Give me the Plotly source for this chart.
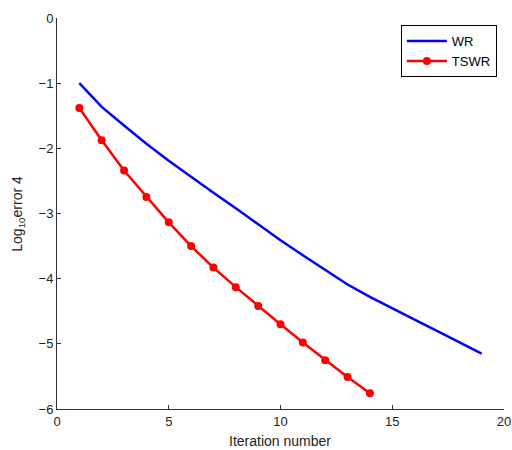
import plotly.graph_objects as go

wr_x = list(range(1, 20))
wr_y = [-1.00, -1.365, -1.65, -1.93, -2.19, -2.44, -2.68, -2.92, -3.17, -3.41,
        -3.64, -3.87, -4.09, -4.28, -4.46, -4.63, -4.80, -4.97, -5.15]
tswr_x = list(range(1, 15))
tswr_y = [-1.38, -1.877, -2.34, -2.745, -3.135, -3.50, -3.83, -4.13, -4.42,
          -4.70, -4.98, -5.25, -5.51, -5.76]

x_ticks = [0, 5, 10, 15, 20]
y_ticks = [0, -1, -2, -3, -4, -5, -6]
y_ticktext = ["0", "\u22121", "\u22122", "\u22123", "\u22124", "\u22125", "\u22126"]

fig = go.Figure()
fig.add_trace(go.Scatter(x=wr_x, y=wr_y, mode="lines", name="WR",
                         line=dict(color="#0000ff", width=2.5)))
fig.add_trace(go.Scatter(x=tswr_x, y=tswr_y, mode="lines+markers", name="TSWR",
                         line=dict(color="#ff0000", width=2.5),
                         marker=dict(color="#ff0000", size=8)))

font = "Liberation Sans, Arial, sans-serif"
fig.update_layout(
    width=512, height=450,
    margin=dict(l=57, r=8, t=18, b=41, autoexpand=False),
    paper_bgcolor="white", plot_bgcolor="white",
    font=dict(family=font, size=12, color="#222222"),
    showlegend=True,
    legend=dict(x=0.984, y=0.982, xanchor="right", yanchor="top",
                bgcolor="white", bordercolor="#000000", borderwidth=1,
                font=dict(family=font, size=13, color="#000000"),
                itemwidth=40, tracegroupgap=0),
    xaxis=dict(range=[0, 20], tickvals=x_ticks, ticks="inside", ticklen=4,
               tickcolor="#333333", showline=True, linecolor="#333333", linewidth=1,
               showgrid=False, zeroline=False, mirror=False, automargin=False,
               tickfont=dict(size=13, family=font, color="#222222")),
    yaxis=dict(range=[-6, 0], tickvals=y_ticks, ticktext=y_ticktext,
               ticks="inside", ticklen=4,
               tickcolor="#333333", showline=True, linecolor="#333333", linewidth=1,
               showgrid=False, zeroline=False, mirror=False, automargin=False,
               tickfont=dict(size=13, family=font, color="#222222")),
    annotations=[
        dict(text="Iteration number", xref="paper", yref="paper", x=0.499, y=-0.082,
             xanchor="center", yanchor="middle", showarrow=False,
             font=dict(size=14, family=font, color="#222222")),
        dict(text="Log<sub>10</sub>error 4", xref="paper", yref="paper", x=-0.089, y=0.5,
             xanchor="center", yanchor="middle", textangle=-90, showarrow=False,
             font=dict(size=14, family=font, color="#222222")),
    ],
)
fig.write_html("out.html", config={"displayModeBar": False},
               post_script="document.body.style.margin='0';document.body.style.overflow='hidden';")
